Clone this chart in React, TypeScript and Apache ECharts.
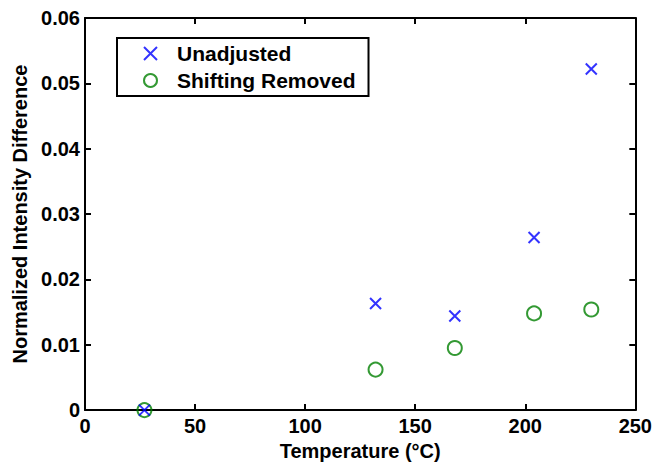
import React, { useEffect, useRef } from "react";
import * as echarts from "echarts";

const temperatures = [27, 132, 168, 204, 230];
const unadjusted = [0, 0.0163, 0.0144, 0.0264, 0.0522];
const shiftingRemoved = [0, 0.0062, 0.0095, 0.0148, 0.0154];
const seriesNames = ["Unadjusted", "Shifting Removed"];
const xTitle = "Temperature (°C)";
const yTitle = "Normalized Intensity Difference";

const FONT = "Liberation Sans, Arial, sans-serif";
const CROSS = "path://M0,0L10,10M10,0L0,10";

export default function App() {
  const ref = useRef<HTMLDivElement>(null);
  useEffect(() => {
    const chart = echarts.init(ref.current!, null, { renderer: "svg" });
    const axisCommon = {
      axisLine: { show: true, onZero: false, lineStyle: { color: "#000", width: 2 } },
      axisTick: { show: true, inside: true, length: 6, lineStyle: { color: "#000", width: 2 } },
      splitLine: { show: false },
    };
    const labelStyle = { color: "#000", fontFamily: FONT, fontWeight: "bold" as const, fontSize: 20 };
    chart.setOption({
      animation: false,
      backgroundColor: "#fff",
      grid: { left: 85, right: 19, top: 18, bottom: 53 },
      legend: {
        orient: "vertical",
        left: 117,
        top: 38,
        padding: [5, 13, 5, 26],
        itemGap: 6,
        itemWidth: 13,
        itemHeight: 13,
        borderColor: "#000",
        borderWidth: 2,
        backgroundColor: "#fff",
        textStyle: { color: "#000", fontFamily: FONT, fontWeight: "bold", fontSize: 21, padding: [0, 0, 0, 15] },
        data: seriesNames,
      },
      xAxis: [
        {
          type: "value",
          min: 0,
          max: 250,
          interval: 50,
          position: "bottom",
          ...axisCommon,
          axisLabel: { ...labelStyle, margin: 6 },
          name: xTitle,
          nameLocation: "middle",
          nameGap: 12,
          nameTextStyle: { ...labelStyle },
        },
        {
          type: "value",
          min: 0,
          max: 250,
          interval: 50,
          position: "top",
          ...axisCommon,
          axisLabel: { show: false },
        },
      ],
      yAxis: [
        {
          type: "value",
          min: 0,
          max: 0.06,
          interval: 0.01,
          position: "left",
          ...axisCommon,
          axisLabel: {
            ...labelStyle,
            margin: 5,
            formatter: (v: number) => (v === 0 ? "0" : v.toFixed(2)),
          },
          name: yTitle,
          nameLocation: "middle",
          nameGap: 53,
          nameTextStyle: { ...labelStyle },
        },
        {
          type: "value",
          min: 0,
          max: 0.06,
          interval: 0.01,
          position: "right",
          ...axisCommon,
          axisLabel: { show: false },
        },
      ],
      series: [
        {
          name: seriesNames[1],
          type: "scatter",
          symbol: "circle",
          symbolSize: 14,
          itemStyle: { color: "rgba(0,0,0,0)", borderColor: "#008000", borderWidth: 2 },
          data: temperatures.map((t, i) => [t, shiftingRemoved[i]]),
          z: 2,
        },
        {
          name: seriesNames[0],
          type: "scatter",
          symbol: CROSS,
          symbolSize: 11,
          itemStyle: { color: "rgba(0,0,0,0)", borderColor: "#0000ff", borderWidth: 2 },
          data: temperatures.map((t, i) => [t, unadjusted[i]]),
          z: 3,
        },
      ],
    });
    return () => chart.dispose();
  }, []);
  return <div ref={ref} style={{ width: 655, height: 466, position: "absolute", left: 0, top: 0 }} />;
}
